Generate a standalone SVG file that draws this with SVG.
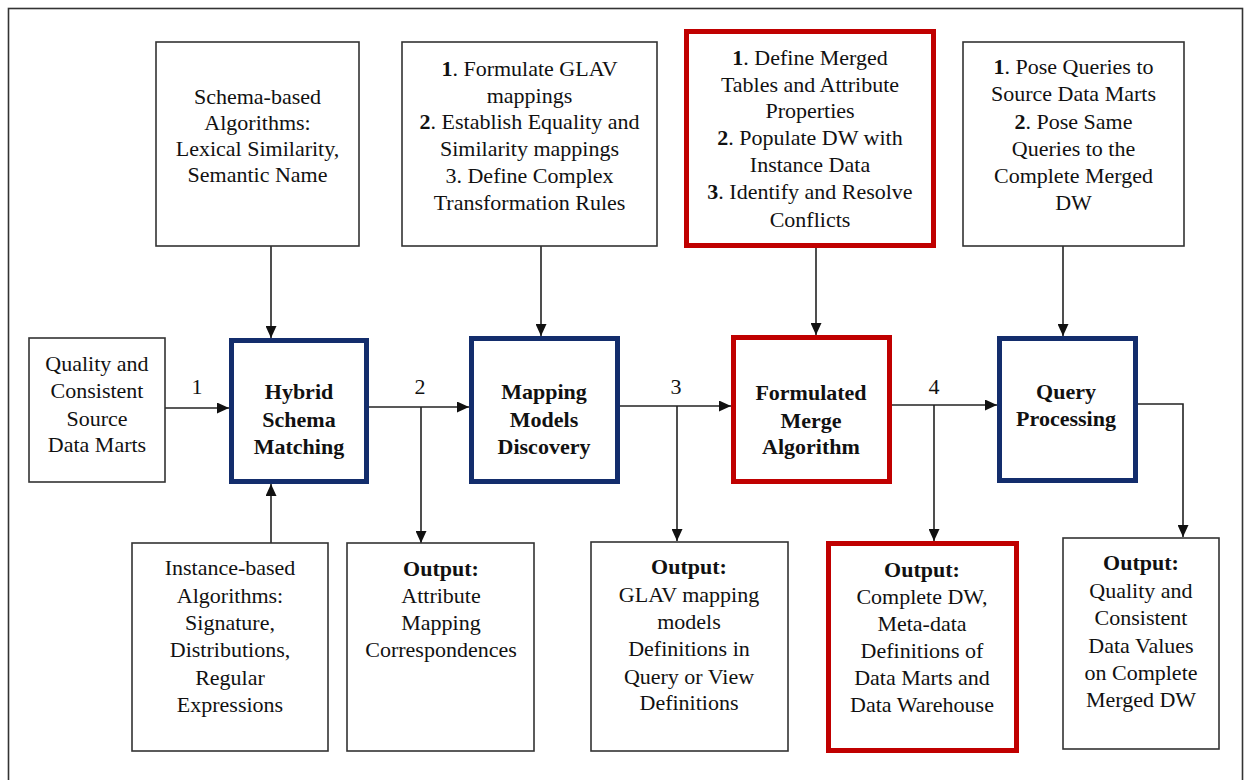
<svg xmlns="http://www.w3.org/2000/svg" width="1246" height="780" viewBox="0 0 1246 780" font-family="Liberation Serif, serif">
<defs>
<marker id="ah" markerUnits="userSpaceOnUse" markerWidth="12" markerHeight="11" refX="12" refY="5.5" orient="auto">
<path d="M0,0 L12,5.5 L0,11 z" fill="#111"/>
</marker>
<style>
text { font-family: Liberation Serif, serif; font-size: 22px; fill: #111; text-anchor: middle; }
.b { font-weight: bold; }
.box { fill: #fff; stroke: #333; stroke-width: 1.6; }
.blue { fill: #fff; stroke: #132d6c; stroke-width: 5; }
.red { fill: #fff; stroke: #c00000; stroke-width: 5; }
.ca { fill: none; stroke: #222; stroke-width: 1.6; marker-end: url(#ah); }
</style>
</defs>
<rect x="0" y="0" width="1246" height="780" fill="#fff"/>
<rect x="8.5" y="8.5" width="1234" height="800" fill="none" stroke="#333" stroke-width="1.6"/>

<g id="connectors">
<path class="ca" d="M271,246 V338"/>
<path class="ca" d="M541,246 V336"/>
<path class="ca" d="M816,248 V335"/>
<path class="ca" d="M1063,246 V336"/>
<path class="ca" d="M165,408 H229"/>
<path class="ca" d="M369,407 H469"/>
<path class="ca" d="M421,407 V543"/>
<path class="ca" d="M620,406 H731"/>
<path class="ca" d="M677,406 V541"/>
<path class="ca" d="M892,405 H997"/>
<path class="ca" d="M934,405 V541"/>
<path class="ca" d="M1138,404 H1183 V537"/>
<path class="ca" d="M271,543 V484"/>
<text x="197" y="394">1</text>
<text x="420" y="394">2</text>
<text x="676" y="394">3</text>
<text x="934" y="394">4</text>
</g>

<g id="schema-based">
<rect class="box" x="156" y="42" width="203" height="204"/>
<text x="257.5" y="104">Schema-based</text>
<text x="257.5" y="130">Algorithms:</text>
<text x="257.5" y="156">Lexical Similarity,</text>
<text x="257.5" y="182">Semantic Name</text>
</g>

<g id="glav-steps">
<rect class="box" x="402" y="42" width="255" height="204"/>
<text x="529.5" y="76"><tspan class="b">1</tspan>. Formulate GLAV</text>
<text x="529.5" y="103">mappings</text>
<text x="529.5" y="129"><tspan class="b">2</tspan>. Establish Equality and</text>
<text x="529.5" y="156">Similarity mappings</text>
<text x="529.5" y="183">3. Define Complex</text>
<text x="529.5" y="210">Transformation Rules</text>
</g>

<g id="merge-steps">
<rect class="red" x="686.5" y="31.5" width="247" height="214"/>
<text x="810" y="65"><tspan class="b">1</tspan>. Define Merged</text>
<text x="810" y="92">Tables and Attribute</text>
<text x="810" y="118">Properties</text>
<text x="810" y="145"><tspan class="b">2</tspan>. Populate DW with</text>
<text x="810" y="172">Instance Data</text>
<text x="810" y="199"><tspan class="b">3</tspan>. Identify and Resolve</text>
<text x="810" y="227">Conflicts</text>
</g>

<g id="query-steps">
<rect class="box" x="963" y="42" width="221" height="204"/>
<text x="1073.5" y="74"><tspan class="b">1</tspan>. Pose Queries to</text>
<text x="1073.5" y="101">Source Data Marts</text>
<text x="1073.5" y="129"><tspan class="b">2</tspan>. Pose Same</text>
<text x="1073.5" y="156">Queries to the</text>
<text x="1073.5" y="183">Complete Merged</text>
<text x="1073.5" y="210">DW</text>
</g>

<g id="source">
<rect class="box" x="29" y="338" width="136" height="144"/>
<text x="97" y="371">Quality and</text>
<text x="97" y="398">Consistent</text>
<text x="97" y="426">Source</text>
<text x="97" y="452">Data Marts</text>
</g>

<g id="hybrid">
<rect class="blue" x="231.5" y="340.5" width="135" height="141"/>
<text class="b" x="299" y="399">Hybrid</text>
<text class="b" x="299" y="427">Schema</text>
<text class="b" x="299" y="454">Matching</text>
</g>

<g id="mapping">
<rect class="blue" x="471.5" y="338.5" width="146" height="143"/>
<text class="b" x="544" y="399">Mapping</text>
<text class="b" x="544" y="427">Models</text>
<text class="b" x="544" y="454">Discovery</text>
</g>

<g id="formulated">
<rect class="red" x="733.5" y="337.5" width="156" height="144"/>
<text class="b" x="811" y="400">Formulated</text>
<text class="b" x="811" y="428">Merge</text>
<text class="b" x="811" y="454">Algorithm</text>
</g>

<g id="query">
<rect class="blue" x="999.5" y="338.5" width="136" height="142"/>
<text class="b" x="1066" y="399">Query</text>
<text class="b" x="1066" y="426">Processing</text>
</g>

<g id="instance-based">
<rect class="box" x="132" y="543" width="196" height="208"/>
<text x="230" y="575">Instance-based</text>
<text x="230" y="603">Algorithms:</text>
<text x="230" y="630">Signature,</text>
<text x="230" y="657">Distributions,</text>
<text x="230" y="685">Regular</text>
<text x="230" y="712">Expressions</text>
</g>

<g id="out-attribute">
<rect class="box" x="347" y="543" width="187" height="208"/>
<text class="b" x="441" y="576">Output:</text>
<text x="441" y="603">Attribute</text>
<text x="441" y="630">Mapping</text>
<text x="441" y="657">Correspondences</text>
</g>

<g id="out-glav">
<rect class="box" x="591" y="542" width="197" height="209"/>
<text class="b" x="689" y="574">Output:</text>
<text x="689" y="602">GLAV mapping</text>
<text x="689" y="629">models</text>
<text x="689" y="656">Definitions in</text>
<text x="689" y="684">Query or View</text>
<text x="689" y="710">Definitions</text>
</g>

<g id="out-dw">
<rect class="red" x="828.5" y="543.5" width="188" height="207"/>
<text class="b" x="922" y="577">Output:</text>
<text x="922" y="604">Complete DW,</text>
<text x="922" y="631">Meta-data</text>
<text x="922" y="658">Definitions of</text>
<text x="922" y="685">Data Marts and</text>
<text x="922" y="712">Data Warehouse</text>
</g>

<g id="out-quality">
<rect class="box" x="1063" y="538" width="156" height="211"/>
<text class="b" x="1141" y="570">Output:</text>
<text x="1141" y="598">Quality and</text>
<text x="1141" y="625">Consistent</text>
<text x="1141" y="653">Data Values</text>
<text x="1141" y="680">on Complete</text>
<text x="1141" y="707">Merged DW</text>
</g>
</svg>
